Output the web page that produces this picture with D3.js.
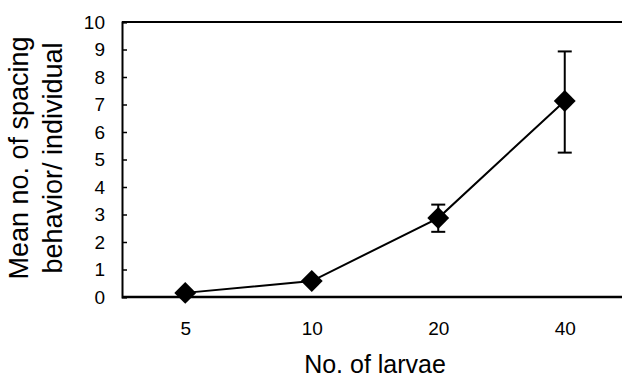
<!DOCTYPE html>
<html><head><meta charset="utf-8">
<script src="https://cdn.jsdelivr.net/npm/d3@7"></script>
<style>body{margin:0;background:#fff}svg{display:block}.tick text{font-size:19px;font-family:"Liberation Sans",Arial,sans-serif;fill:#000}</style>
</head><body>
<script>
const categories = ["5", "10", "20", "40"];
const means = [0.15, 0.58, 2.87, 7.13];
const errLow = [0.15, 0.58, 2.37, 5.25];
const errHigh = [0.15, 0.58, 3.36, 8.93];
const yTicks = [0,1,2,3,4,5,6,7,8,9,10];
const xTitle = "No. of larvae";
const yTitle = ["Mean no. of spacing", "behavior/ individual"];

(function () {
const W = 622, H = 385;
const svg = d3.select("body").append("svg").attr("width", W).attr("height", H);
const mLeft = 122, mRight = 628, mTop = 22, mBottom = 297;
const x = d3.scalePoint().domain(categories).range([mLeft, mRight]).padding(0.5);
const y = d3.scaleLinear().domain([0, 10]).range([mBottom, mTop]);
const font = "Liberation Sans, Arial, sans-serif";

// frame lines
svg.append("line").attr("x1", mLeft).attr("x2", mRight).attr("y1", mTop).attr("y2", mTop).attr("stroke", "#000").attr("stroke-width", 2);
svg.append("line").attr("x1", mLeft).attr("x2", mRight).attr("y1", mBottom).attr("y2", mBottom).attr("stroke", "#000").attr("stroke-width", 2.5);

// y axis
const ya = svg.append("g").attr("transform", `translate(${mLeft},0)`)
  .call(d3.axisLeft(y).tickValues(yTicks).tickSize(-5).tickPadding(17).tickFormat(d3.format("d")));
ya.attr("font-size", null).attr("font-family", null);
ya.select(".domain").attr("stroke", "#000").attr("stroke-width", 2);
ya.selectAll(".tick line").attr("stroke", "#000").attr("stroke-width", 1.5);
ya.selectAll(".tick text").style("font-size", "19px").style("font-family", font).attr("fill", "#000");

// x axis labels
const xa = svg.append("g").attr("transform", `translate(0,${mBottom})`)
  .call(d3.axisBottom(x).tickSize(0).tickPadding(25));
xa.attr("font-size", null).attr("font-family", null);
xa.select(".domain").remove();
xa.selectAll(".tick text").style("font-size", "19px").style("font-family", font).attr("fill", "#000");

// line
svg.append("path").datum(categories)
  .attr("d", d3.line().x(d => x(d)).y((d, i) => y(means[i])))
  .attr("fill", "none").attr("stroke", "#000").attr("stroke-width", 2);

// error bars
const eb = svg.append("g");
categories.forEach((c, i) => {
  if (errHigh[i] - errLow[i] < 0.05) return;
  const cx = x(c);
  eb.append("line").attr("x1", cx).attr("x2", cx).attr("y1", y(errLow[i])).attr("y2", y(errHigh[i])).attr("stroke", "#000").attr("stroke-width", 2);
  [errLow[i], errHigh[i]].forEach(v => {
    eb.append("line").attr("x1", cx - 7).attr("x2", cx + 7).attr("y1", y(v)).attr("y2", y(v)).attr("stroke", "#000").attr("stroke-width", 2);
  });
});

// diamonds
svg.append("g").selectAll("path").data(categories).join("path")
  .attr("transform", (d, i) => `translate(${x(d)},${y(means[i])}) rotate(45)`)
  .attr("d", d3.symbol().type(d3.symbolSquare).size(240))
  .attr("fill", "#000");

// titles
svg.append("text").attr("x", 375).attr("y", 373).attr("text-anchor", "middle")
  .attr("font-family", font).attr("font-size", 25).attr("fill", "#000").text(xTitle);
const yt = svg.append("text").attr("transform", "translate(0,158) rotate(-90)")
  .attr("text-anchor", "middle").attr("font-family", font).attr("font-size", 27).attr("fill", "#000");
yTitle.forEach((t, i) => yt.append("tspan").attr("x", 0).attr("y", 28 + i * 34).text(t));
})();
</script>
</body></html>
